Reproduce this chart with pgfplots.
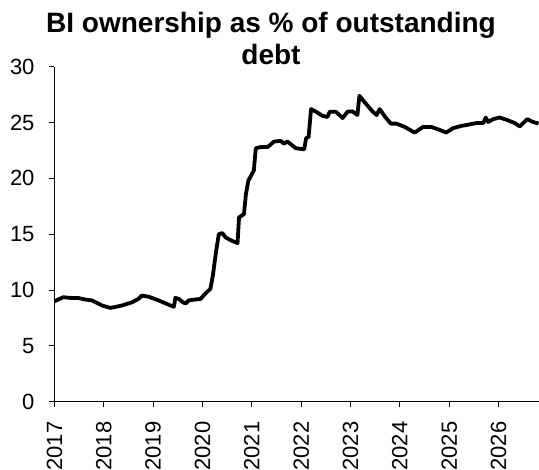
\documentclass[border=0pt]{standalone}
\usepackage{pgfplots}
\pgfplotsset{compat=1.18}
\usepackage{fontspec}
\setmainfont{Liberation Sans}
\pgfplotstableread{
x y
2017.00 9.0
2017.10 9.2
2017.18 9.36
2017.30 9.3
2017.49 9.28
2017.62 9.15
2017.76 9.07
2017.96 8.62
2018.13 8.4
2018.25 8.5
2018.37 8.62
2018.57 8.9
2018.70 9.2
2018.77 9.5
2018.91 9.4
2019.11 9.07
2019.35 8.62
2019.42 8.5
2019.45 9.3
2019.52 9.2
2019.60 8.9
2019.66 8.8
2019.72 9.07
2019.85 9.15
2019.96 9.2
2020.06 9.7
2020.16 10.1
2020.21 11.3
2020.27 13.3
2020.33 15.0
2020.40 15.1
2020.47 14.7
2020.60 14.4
2020.71 14.2
2020.74 16.5
2020.84 16.8
2020.88 18.6
2020.93 19.8
2021.04 20.7
2021.08 22.7
2021.18 22.8
2021.32 22.8
2021.45 23.3
2021.59 23.35
2021.65 23.1
2021.72 23.3
2021.89 22.7
2022.06 22.6
2022.10 23.6
2022.15 23.7
2022.20 26.2
2022.30 25.97
2022.43 25.6
2022.53 25.5
2022.58 25.97
2022.70 25.97
2022.77 25.7
2022.84 25.4
2022.94 25.97
2023.04 26.0
2023.14 25.67
2023.18 27.4
2023.28 26.85
2023.45 25.97
2023.53 25.67
2023.59 26.2
2023.72 25.4
2023.82 24.9
2023.93 24.9
2024.10 24.6
2024.30 24.1
2024.47 24.6
2024.64 24.6
2024.80 24.35
2024.94 24.1
2025.08 24.5
2025.25 24.7
2025.38 24.8
2025.55 24.95
2025.69 24.95
2025.74 25.45
2025.79 25.05
2025.89 25.3
2026.02 25.45
2026.16 25.25
2026.33 24.95
2026.43 24.65
2026.58 25.3
2026.67 25.1
2026.81 24.9
}\bidata
\begin{document}
\begin{tikzpicture}[x=1pt,y=1pt]
\path[use as bounding box] (0,0) rectangle (539,470);
\node[anchor=base,font=\fontsize{28}{32}\selectfont\bfseries] at (271,437.5) {BI ownership as \% of outstanding};
\node[anchor=base,font=\fontsize{28}{32}\selectfont\bfseries] at (271,405) {debt};
\begin{axis}[
  at={(54.5pt,68.3pt)}, anchor=origin,
  scale only axis, width=484pt, height=335pt,
  xmin=2017, xmax=2026.81, ymin=0, ymax=30,
  axis lines=left, axis line style={-, line width=0.8pt},
  tick align=outside, major tick length=5.5pt,
  tick style={line width=0.8pt, black},
  xtick={2017,2018,2019,2020,2021,2022,2023,2024,2025,2026},
  xticklabels={2017,2018,2019,2020,2021,2022,2023,2024,2025,2026},
  ytick={0,5,10,15,20,25,30},
  ticklabel style={font=\fontsize{22}{25}\selectfont},
  /pgf/number format/assume math mode=true,
  xticklabel style={rotate=90, anchor=east, xshift=-11pt},
  yticklabel style={anchor=east, xshift=-11pt},
  clip=false,
]
\addplot[black, line width=3.8pt, line join=round, no marks] table[x=x,y=y] {\bidata};
\end{axis}
\end{tikzpicture}
\end{document}
